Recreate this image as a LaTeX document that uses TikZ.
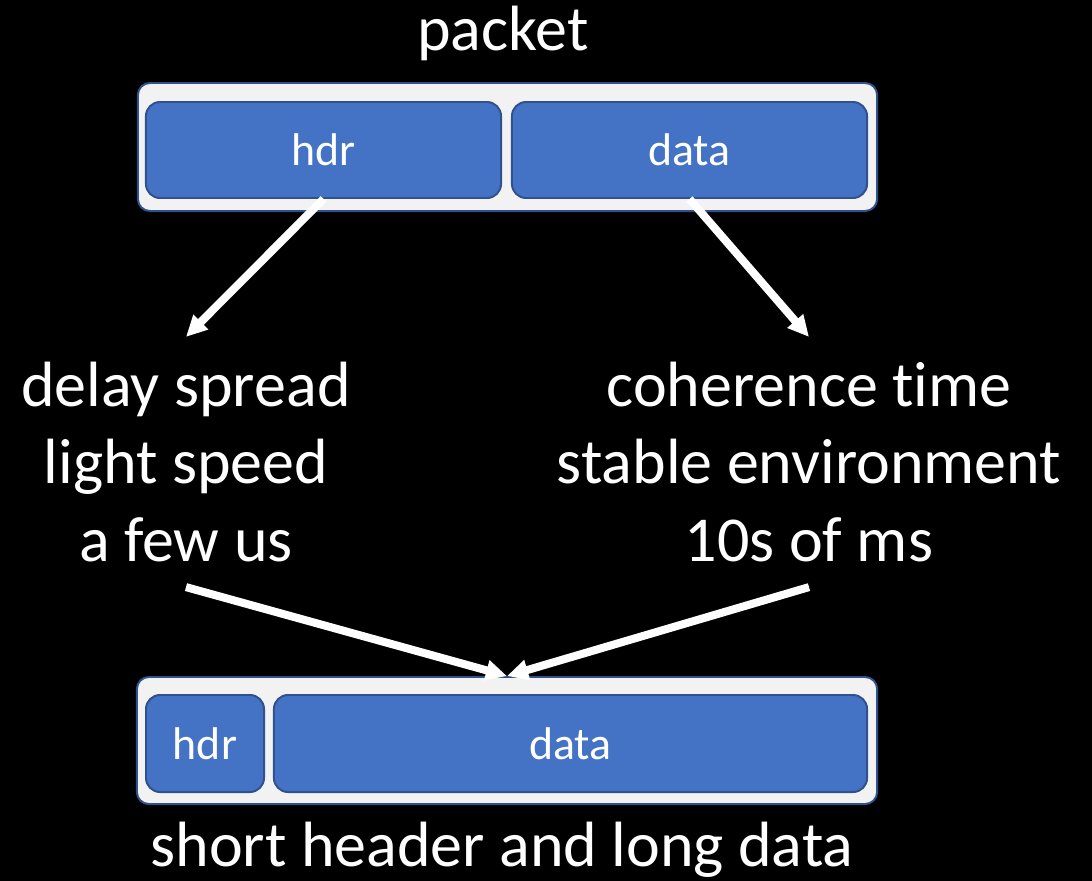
\documentclass[tikz,border=0pt]{standalone}
\usepackage{fontspec}
\setmainfont[Ligatures=NoCommon]{Carlito}
\usetikzlibrary{arrows.meta}
\definecolor{boxblue}{HTML}{4472C4}
\definecolor{boxedge}{HTML}{2F528F}
\definecolor{boxgray}{HTML}{F2F2F2}
\begin{document}
\begin{tikzpicture}[x=0.025cm,y=-0.025cm,
  outer/.style={draw=boxedge,line width=1.4pt,fill=boxgray,rounded corners=8.5pt,inner sep=0pt},
  field/.style={draw=boxedge,line width=1.4pt,fill=boxblue,rounded corners=10pt,inner sep=0pt,
    text=white,font=\fontsize{32.6}{38}\selectfont},
  big/.style={text=white,font=\fontsize{45.5}{54.8}\selectfont,align=center},
  arr/.style={draw=white,line width=5.7pt,-{Triangle[length=15pt,width=14pt]}}]

\useasboundingbox (0,0) rectangle (1092,881);
\fill[black] (0,0) rectangle (1092,881);

\node[big,anchor=base] (packet) at (503,50) {packet};
\node[outer,minimum width=18.475cm,minimum height=3.2cm] (top) at (507.5,147) {};
\node[field,minimum width=8.875cm,minimum height=2.4cm] (hdrA) at (323.5,150) {hdr};
\node[field,minimum width=8.875cm,minimum height=2.4cm] (dataA) at (689.5,150) {data};

\node[big,inner xsep=0pt,inner ysep=18pt] (spread) at (186,462) {delay spread\\light speed\\a few us};
\node[big,inner xsep=0pt,inner ysep=18pt] (coher) at (809,462) {coherence time\\stable environment\\10s of ms};

\node[outer,minimum width=18.5cm,minimum height=3.175cm] (bot) at (507,740.5) {};
\node[field,minimum width=2.95cm,minimum height=2.425cm] (hdrB) at (205,743.5) {hdr};
\node[field,minimum width=14.825cm,minimum height=2.425cm] (dataB) at (570.5,743.5) {data};
\node[big,anchor=base] (caption) at (502,866) {short header and long data};

\draw[arr] (hdrA.south) -- (spread.north);
\draw[arr] (dataA.south) -- (coher.north);
\draw[arr] (spread.south) -- (bot.north);
\draw[arr] (coher.south) -- (bot.north);
\end{tikzpicture}
\end{document}
